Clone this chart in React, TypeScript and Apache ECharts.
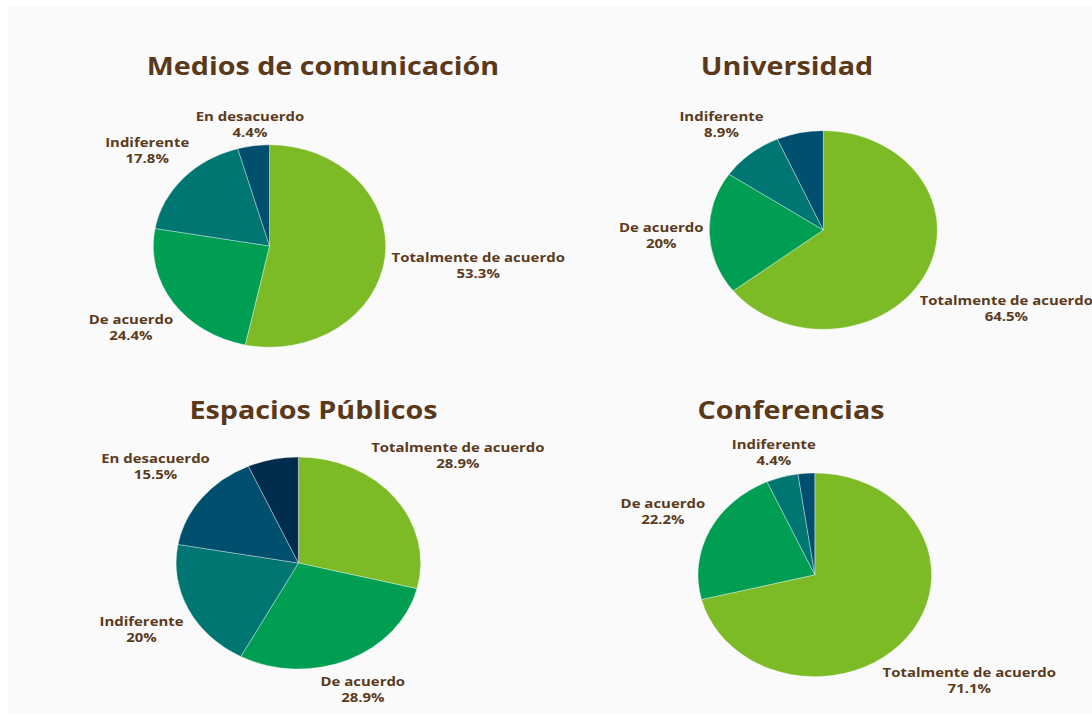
import React, { useEffect, useRef } from "react";
import * as echarts from "echarts";

// ---- data ----
const TITLES = ["Medios de comunicación", "Universidad", "Espacios Públicos", "Conferencias"];
const CATEGORIES = ["Totalmente de acuerdo", "De acuerdo", "Indiferente", "En desacuerdo", "Totalmente en desacuerdo"];
const MEDIOS = [53.3, 24.4, 17.8, 4.4];
const UNIVERSIDAD = [64.5, 20, 8.9, 6.6];
const ESPACIOS = [28.9, 28.9, 20, 15.5, 6.7];
const CONFERENCIAS = [71.1, 22.2, 4.4, 2.3];
const SERIES_VALUES = [MEDIOS, UNIVERSIDAD, ESPACIOS, CONFERENCIAS];
// slices drawn without a label in the source picture
const HIDDEN_LABELS = [[], ["En desacuerdo"], ["Totalmente en desacuerdo"], ["En desacuerdo"]];

// ---- styles / layout ----
const COLORS = ["#7cbb26", "#009e52", "#007672", "#004f6e", "#002c4e"];
const TEXT_COLOR = "#5b3b1d";
const TITLE_COLOR = "#5a391b";
const FONT = '"Open Sans", "DejaVu Sans", sans-serif';
const STRETCH_X = 1.149; // the source picture is widened horizontally
const LABEL_SIZE = 13;
const LINE_H = 16;
const TITLE_SIZE = 25;
const LAYOUT = [
  { cx: 261.5, cy: 240, rx: 116.2, ry: 101.2, tx: 315, ty: 59 },
  { cx: 815.3, cy: 224, rx: 114, ry: 99.3, tx: 779, ty: 59 },
  { cx: 290.4, cy: 557, rx: 122.3, ry: 106, tx: 305.5, ty: 403 },
  { cx: 806.8, cy: 568.8, rx: 116.8, ry: 101.8, tx: 783, ty: 403 },
];

let measureCtx: CanvasRenderingContext2D | null = null;
function textWidth(s: string): number {
  if (!measureCtx) measureCtx = document.createElement("canvas").getContext("2d");
  measureCtx!.font = `bold ${LABEL_SIZE}px ${FONT}`;
  return measureCtx!.measureText(s).width * STRETCH_X;
}

function makeSeries(values: number[], hidden: string[], lay: any) {
  const total = values.reduce((a, b) => a + b, 0);
  const starts: number[] = [];
  let acc = 0;
  values.forEach((v) => {
    starts.push(acc);
    acc += v;
  });
  return {
    type: "custom",
    coordinateSystem: "none",
    data: values.map((v, i) => ({ name: CATEGORIES[i], value: v })),
    renderItem: (params: any, api: any) => {
      const i = params.dataIndex;
      const v = api.value(0);
      const a0 = starts[i] / total;
      const a1 = (starts[i] + v) / total;
      const children: any[] = [
        {
          type: "group",
          x: lay.cx,
          y: lay.cy,
          scaleY: lay.ry / lay.rx,
          children: [
            {
              type: "sector",
              shape: {
                cx: 0,
                cy: 0,
                r0: 0,
                r: lay.rx,
                startAngle: -Math.PI / 2 + 2 * Math.PI * a0,
                endAngle: -Math.PI / 2 + 2 * Math.PI * a1,
                clockwise: true,
              },
              style: { fill: COLORS[i], stroke: "rgba(255,255,255,0.55)", lineWidth: 0.7 },
            },
          ],
        },
      ];
      const name = CATEGORIES[i];
      if (hidden.indexOf(name) < 0) {
        const pct = String(v) + "%";
        const w = Math.max(textWidth(name), textWidth(pct));
        const h = 2 * LINE_H;
        const th = (2 * Math.PI * (a0 + a1)) / 2;
        const u = Math.sin(th);
        const vv = -Math.cos(th);
        const hw = w / 2 / lay.rx;
        const hh = h / 2 / lay.ry;
        let t = 1;
        for (; t < 4; t += 0.002) {
          const cu = t * u;
          const cv = t * vv;
          const nu = Math.min(Math.max(0, cu - hw), cu + hw);
          const nv = Math.min(Math.max(0, cv - hh), cv + hh);
          if (Math.hypot(nu, nv) >= 1.05) break;
        }
        children.push({
          type: "text",
          x: lay.cx + t * u * lay.rx,
          y: lay.cy + t * vv * lay.ry,
          scaleX: STRETCH_X,
          style: {
            text: name + "\n" + pct,
            fill: TEXT_COLOR,
            fontSize: LABEL_SIZE,
            fontWeight: "bold",
            fontFamily: FONT,
            align: "center",
            verticalAlign: "middle",
            lineHeight: LINE_H,
          },
        });
      }
      return { type: "group", children };
    },
  };
}

export default function App() {
  const ref = useRef<HTMLDivElement>(null);
  useEffect(() => {
    if (!ref.current) return;
    const chart = echarts.init(ref.current, undefined, { renderer: "svg" });
    chart.setOption({
      animation: false,
      backgroundColor: "#fafafa",
      graphic: TITLES.map((t, i) => ({
        type: "text",
        x: LAYOUT[i].tx,
        y: LAYOUT[i].ty,
        scaleX: STRETCH_X,
        style: {
          text: t,
          fill: TITLE_COLOR,
          fontSize: TITLE_SIZE,
          fontWeight: "bold",
          fontFamily: FONT,
          align: "center",
          verticalAlign: "middle",
        },
      })),
      series: SERIES_VALUES.map((vals, i) => makeSeries(vals, HIDDEN_LABELS[i], LAYOUT[i])),
    });
    return () => chart.dispose();
  }, []);
  return (
    <div
      ref={ref}
      style={{ position: "absolute", left: 8, top: 6, width: 1084, height: 708 }}
    />
  );
}
